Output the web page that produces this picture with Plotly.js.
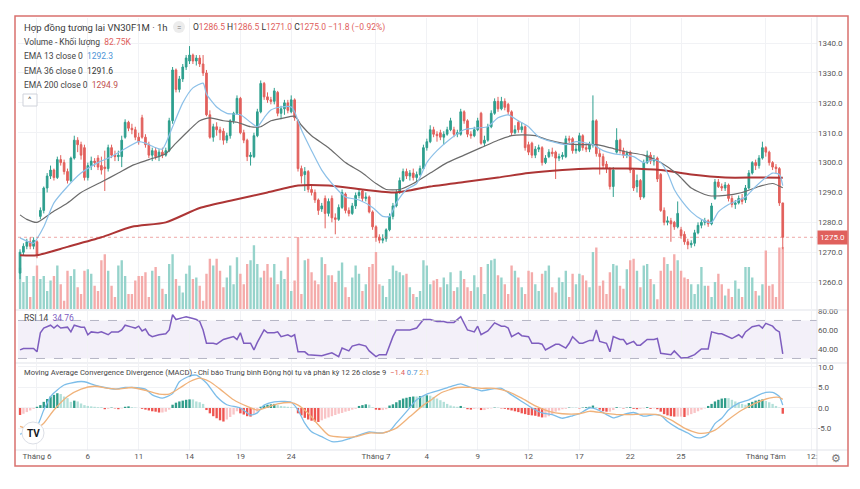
<!DOCTYPE html>
<html>
<head>
<meta charset="utf-8">
<script src="https://cdn.plot.ly/plotly-3.0.1.min.js"></script>
<style>
html, body { margin: 0; padding: 0; background: #fff; }
#graph { width: 860px; height: 489px; }
</style>
</head>
<body>
<div id="graph"></div>
<script>
// VN30F1M 1h - gia doc tu hinh (uoc luong)
var openP = [1263,1270,1272,1273.5,1272,1273.5,1282,1284,1291.5,1295.5,
1297.5,1295,1301,1300,1297,1294,1301.5,1307.5,1306,1305,
1295,1299,1300.5,1301.5,1299,1298.5,1298,1305,1302.5,1302,
1302,1308.5,1313.5,1311.5,1311,1308.5,1315,1308.5,1306,1302.5,
1304,1302,1303.5,1302.5,1304,1314,1331,1324.5,1328,1332,
1334,1336,1334,1335,1333,1330,1316,1308.5,1312,1311,
1310.5,1307.5,1309,1314,1316.5,1321.5,1310,1307.5,1302,1302,
1309,1317,1326.5,1322,1321,1320.5,1323.5,1316.5,1318,1320,
1317,1321,1314,1298,1296,1297,1291,1290,1287.5,1284.5,
1288,1283,1288,1281.5,1281,1285,1289.5,1284,1283,1285.5,
1289,1290.5,1288,1288.5,1283.5,1278.5,1275,1274,1274.5,1277.5,
1282,1285.5,1290,1294,1297,1295.5,1296.5,1295,1296,1298,
1305,1307,1311,1309.5,1310,1308.5,1309.5,1311,1311,1309.5,
1309.5,1317,1314,1309.5,1309,1311,1316.5,1306.5,1307.5,1312,
1316.5,1320.5,1318,1320.5,1319.5,1317,1310,1313.5,1311,1312,
1306,1306.5,1302.5,1304.5,1305,1300,1302,1303.5,1303.5,1301.5,
1302,1302,1308,1308,1304,1304,1309,1305,1304.5,1306,
1314,1303,1302,1299.5,1298,1292,1303.5,1307.5,1304,1302.5,
1303.5,1297.5,1292,1294,1288.5,1300,1302.5,1300.5,1301.5,1296,
1284,1280,1280.5,1280,1278.5,1277.5,1276,1273.5,1272.5,1273,
1276.5,1279,1280,1280.5,1279.5,1288,1293.5,1292,1291.5,1292.5,
1288,1286,1286.5,1288,1287.5,1291.5,1296.5,1300,1299,1301.5,
1305,1303.5,1300,1298.5,1298,1286.5];

var highP = [1271,1273,1274.5,1275,1275,1274,1285,1292,1296.5,1299,
1298,1302,1302.5,1301,1298,1302,1309,1308.5,1307,1306,
1300,1302,1301.5,1302.5,1302,1304,1306,1306,1304,1304,
1309,1314.5,1314,1313,1312,1310,1316,1309.5,1307,1305,
1305,1304.5,1305,1305,1315,1332,1331.5,1329,1333,1336,
1339,1336.5,1336,1336,1336,1331,1317.5,1313,1313.5,1312,
1311.5,1310,1314.5,1317,1322.5,1322,1311,1308,1303.5,1310,
1318,1327.5,1327,1323.5,1322,1325,1324,1319,1321,1321,
1322.5,1321.5,1314.5,1299,1298.5,1297.5,1292.5,1291,1288,1286.5,
1289,1288,1289,1283,1286,1291,1290,1285,1286.5,1290,
1291,1291,1290,1289,1284,1279,1276,1276,1278,1283,
1286.5,1291,1295,1298,1298,1297.5,1298,1297,1299,1306,
1308,1312.5,1312,1310.5,1311,1310.5,1312,1315,1312,1311,
1318,1317.5,1314.5,1310.5,1312,1315,1317,1309,1313,1317.5,
1321.5,1322,1322,1321.5,1320,1317.5,1312.5,1314,1313.5,1312.5,
1307,1307,1305.5,1306,1305.5,1302.5,1304.5,1305,1304,1303,
1303.5,1309,1309,1308.5,1306,1310,1309.5,1306.5,1307,1322.5,
1314.5,1304.5,1303,1300.5,1298.5,1298.5,1311.5,1308,1305,1304,
1304,1298,1296,1294.5,1301,1304,1303.5,1302.5,1302,1296.5,
1285,1282,1281.5,1280.5,1287,1278.5,1277,1274.5,1274,1277.5,
1280,1281,1281.5,1281,1286.5,1294.5,1294.5,1293,1293.5,1293,
1289,1287.5,1289,1289.5,1292.5,1297.5,1300.5,1301,1302.5,1307,
1305.5,1304,1300.5,1299.5,1298.5,1286.5];

var lowP = [1261,1269,1271,1271,1271,1268,1281,1283,1290,1294.5,
1294,1294.5,1299,1296,1293,1293.5,1301,1303.5,1301,1294,
1294,1297.5,1298.5,1297.5,1296,1290.5,1297,1301.5,1300.5,1300.5,
1298.5,1308,1310.5,1309.5,1307.5,1306,1308,1305,1301.5,1300.5,
1301,1300.5,1301.5,1302,1303.5,1313,1323.5,1323.5,1327,1331,
1333,1333,1332.5,1332,1329,1315.5,1308,1307,1309,1307.5,
1306,1306.5,1308,1313,1316,1309.5,1306.5,1300.5,1299,1301.5,
1308.5,1316.5,1321,1320,1319.5,1319.5,1315.5,1314.5,1316,1316.5,
1316.5,1314,1297,1293,1290.5,1290,1289,1286.5,1282.5,1283.5,
1278,1282,1280,1276,1280.5,1284.5,1283,1282,1282.5,1284.5,
1288,1287,1287,1283,1277.5,1273.5,1273,1273,1273.5,1277,
1281,1285,1289.5,1293.5,1294.5,1294,1294,1293.5,1295.5,1297.5,
1304,1306.5,1308.5,1307,1307.5,1306,1309,1310.5,1308.5,1308.5,
1309,1313,1308.5,1308,1308.5,1310.5,1306,1305.5,1307,1311.5,
1316,1317,1317.5,1317.5,1316,1309,1309.5,1310,1310,1304,
1302.5,1301.5,1301.5,1303.5,1299,1299.5,1301.5,1302,1294.5,1300.5,
1301,1301.5,1306,1303,1303,1303.5,1304,1303.5,1303.5,1305,
1302,1296,1298,1296.5,1291,1288.5,1303,1303,1301.5,1301.5,
1296.5,1290.5,1290,1287.5,1288,1299.5,1299.5,1299,1293.5,1283.5,
1279,1279,1273.5,1277.5,1278,1274.5,1272.5,1271,1271.5,1272,
1276,1278,1279,1278.5,1279,1287.5,1291.5,1290.5,1290.5,1287,
1285,1284.5,1286,1286,1286.5,1291,1296,1297.5,1298,1301,
1302,1299,1297.5,1296.5,1285.5,1271];

var closeP = [1270,1272,1273.5,1272,1274,1269,1284,1291.5,1295.5,1297.5,
1295,1301,1300,1297,1294,1301.5,1307.5,1306,1302.5,1295,
1299,1300.5,1300,1298.5,1297.5,1298,1305,1302.5,1302,1302.5,
1307.5,1313.5,1311.5,1311,1308.5,1307,1308.5,1306,1302.5,1304,
1302,1303.5,1302.5,1304,1314,1331,1324.5,1328,1332,1335,
1336,1334,1335,1333,1330,1316,1308.5,1312,1311,1310,
1307.5,1309,1314,1316.5,1321.5,1310,1307.5,1302,1302.5,1309,
1317,1326.5,1322,1321,1320.5,1324,1316.5,1318,1320,1317.5,
1321,1315,1298,1295.5,1297,1291,1290,1287.5,1284,1285.5,
1283,1287,1281.5,1281,1285,1290,1284,1283,1285.5,1289,
1290,1288,1288.5,1283.5,1278.5,1275,1274,1274.5,1277.5,1282,
1285.5,1290,1294,1297,1295.5,1296.5,1295,1296,1298,1305,
1307,1311,1309.5,1309,1308.5,1309.5,1311,1314,1309.5,1310,
1317,1314,1309.5,1309,1311,1314,1306.5,1307.5,1312,1316.5,
1320.5,1318,1320.5,1318.5,1317,1310,1311,1311,1312,1305,
1303.5,1302.5,1304.5,1305,1300,1301.5,1303.5,1303,1301.5,1302,
1302.5,1308,1307.5,1304,1304.5,1309,1305,1304.5,1306,1314,
1303,1302,1299,1298,1292,1297.5,1307.5,1304,1302.5,1303,
1297.5,1291.5,1294,1288.5,1300,1302.5,1300.5,1301,1294.5,1284,
1280,1280.5,1279.5,1278.5,1283,1275.5,1273.5,1272.5,1273,1276.5,
1279,1280,1280.5,1279.5,1285.5,1293.5,1292,1291.5,1292.5,1288,
1286,1286.5,1288,1287,1291.5,1296.5,1300,1299,1301.5,1305,
1303.5,1300,1298.5,1298,1286.5,1275];

// khoi luong (nghin hop dong)
var volK = [55,
36,44,16,44,58,40,44,24,38,44,58,33,11,51,44,53,29,20,51,53,
47,31,24,65,73,51,31,16,58,65,44,20,20,38,44,44,49,16,51,56,
44,27,20,60,73,40,31,22,47,58,40,42,31,11,47,67,58,67,
51,29,42,58,33,69,47,33,60,65,85,60,42,51,60,42,60,33,51,40,69,24,38,96,
20,65,67,49,38,33,69,60,45,45,36,51,62,29,16,42,58,47,24,33,
56,60,76,33,31,16,40,58,51,49,45,47,29,20,16,24,65,58,33,38,
40,29,42,33,49,24,29,51,40,29,24,45,29,56,20,60,65,67,45,42,
33,20,58,51,42,29,20,51,49,33,24,47,51,58,29,22,42,36,51,16,
47,33,47,45,
38,29,76,82,31,38,20,49,60,58,31,27,53,65,67,51,29,58,60,40,
33,13,51,69,60,51,73,65,51,42,40,33,20,33,56,31,31,16,36,47,
33,18,27,16,38,27,16,56,56,42,24,18,33,78,31,33,16,82,82.75];

// EMA (doc theo diem tren hinh)
var ema13Bar = [0,4,5,7,10,14,18,23,27,30,35,37,40,42,45,48,51,54,55,58,
61,65,68,70,72,74,77,80,81,83,86,89,92,96,100,104,107,109,111,114,
117,120,123,127,131,135,138,141,144,147,150,153,157,161,164,169,172,175,178,181,
184,187,189,191,193,195,198,201,204,206,209,211,214,217,220,222,224,225];
var ema13Val = [1274.8,1273,1274.5,1278.5,1286.5,1292,1296.5,1300,1302,1304,1307,1306.5,1305,1304.5,1312,1320,1325,1326.6,1323,1318.6,
1316.5,1316,1313.5,1312,1315,1317.6,1318.6,1318.6,1317,1311,1304,1297.5,1293,1288.5,1287.5,1285,1282,1282,1286.5,1291,
1293,1300,1304,1308,1311,1311.6,1312,1315,1316,1314,1312,1308.6,1307,1306,1307,1306,1304,1303,1302.5,1302,
1300,1301,1300,1296.5,1291,1287.5,1283.5,1281,1280,1283.5,1286,1287,1288.5,1292,1295,1296.5,1296,1292.3];

var ema36Bar = [0,2,5,9,14,18,24,29,33,38,43,46,50,53,56,60,64,68,71,74,
78,81,83,86,91,96,101,105,108,112,116,121,126,131,136,141,145,148,152,156,
160,165,170,174,179,184,189,194,198,203,208,213,218,222,225];
var ema36Val = [1282.5,1281,1280,1283,1286.5,1290,1293.5,1296.5,1299,1301,1303,1306.5,1311,1314,1315,1314,1313.5,1312,1312,1314,
1315,1315.5,1312.5,1309,1305,1300,1296.5,1293,1291,1291,1293,1296.5,1300,1302.5,1305,1307.5,1309,1309.3,1309,1307.5,
1306.5,1306,1306,1305,1303.5,1302.5,1300,1296,1291.5,1289,1289,1290,1292,1293,1291.6];

var ema200Bar = [0,5,14,24,33,43,53,63,73,82,91,101,111,121,131,141,150,160,169,179,189,198,208,218,225];
var ema200Val = [1269,1269,1271.8,1275,1278.5,1280,1284.8,1287.5,1290,1292.3,1292.3,1291,1290,1292,1293.5,1295,1296.5,1297.5,1298,1298,1297.5,1296,1295,1295,1294.9];

// RSI 14
var rsiBar = [0,1,4,5,6,7,9,10,11,12,14,15,16,18,19,20,21,23,24,26,
27,29,30,31,33,34,35,36,37,38,39,41,43,44,45,46,48,49,51,52,
53,54,55,57,58,60,62,63,64,65,66,68,69,70,72,73,75,76,77,79,
80,81,82,84,85,88,89,91,92,94,95,97,98,100,102,103,105,106,108,110,
111,113,115,117,118,119,121,123,125,126,128,130,132,134,135,136,138,140,142,143,
144,145,147,148,150,151,153,154,155,158,159,161,162,163,165,166,168,169,170,171,
173,174,175,177,178,179,181,182,183,185,187,188,189,191,192,193,195,197,199,201,
203,204,206,207,209,210,212,213,214,216,218,219,220,222,223,224,225];
var rsiVal = [39,40.5,40.5,37,57,62,65,62,65,62,63,58,65,63,63,55,58,57,58,55,
58,58,60,65,63,62,64,59,61,55,53,55,56,60,76,71,73,74,72,71,
69,60,46,46,45,50,52,53,50,57,46,46,39,47,60,57,57,58,53,55,
53,55,37,37,34,33,33,35,36,32,41,38,43,45,43,38,32,34,34,53,
60,60,60,62,67,71,71,69,69,68,68,74,60,58,64,55,59,67.5,64,64,
62,53,57,54,53,46,46,45,39,45,45,41,46,53,46,46,49,49,60,48,
46,37,53,50,50,45,48,44,44,50,50,51,35.5,34,34,38,30.5,31,34,40,
40,58,56,56,53,51,55,52,58,63.5,65,62,67,64,60,58,34.76];

// MACD 12 26 9
var macdBar = [0,3,5,7,9,11,13,17,19,22,25,28,31,33,37,39,42,45,47,50,
52,55,58,61,65,68,70,72,75,78,80,82,84,86,89,92,95,97,100,103,
106,109,111,114,117,120,124,127,130,133,136,139,142,145,148,151,154,157,160,163,
165,168,170,173,175,178,181,184,187,189,191,194,197,199,201,203,205,207,209,212,
215,218,220,222,224,225];
var macdVal = [-6.4,-5.4,-4.5,-0.5,2.8,4.4,5.6,6.4,6.4,5.6,5.0,4.6,5.0,5.0,4.6,3.2,2.4,3.5,6.4,7.8,
8.0,6.1,2.8,0.8,0,-1.7,-1.2,0.7,1.5,1.6,1.4,-0.5,-3.7,-5.8,-7.0,-8.2,-8.0,-7.5,-6.6,-5.8,
-6.1,-5.6,-3.7,-0.9,2.0,3.4,4.4,5.2,5.9,5.0,4.2,4.6,4.8,3.2,1.6,0,-1.2,-1.6,-2.5,-1.9,
-1.4,0,-0.3,-1.6,-2.4,-1.6,-1.1,-2.0,-1.6,-1.8,-3.3,-4.9,-6.1,-7.1,-7.2,-6.4,-3.8,-2.5,-0.5,1.2,
2.0,3.2,3.8,3.8,2.8,0.7];

var signalBar = [0,4,7,10,14,18,22,26,29,33,37,41,44,47,50,53,56,59,63,67,
70,73,76,80,82,85,88,91,95,99,103,107,111,115,119,121,124,129,133,136,
140,144,148,152,156,160,165,168,172,176,180,184,188,192,196,200,203,205,209,213,
217,221,224,225];
var signalVal = [-4.5,-5.4,-3.7,-0.5,2.8,4.6,5.3,4.8,4.6,5.0,4.3,3.4,3.4,4.8,6.4,7.3,6.4,4.6,2.0,0.4,
-0.5,0.2,1.0,1.3,0.7,-1.3,-4.1,-6.6,-7.1,-7.0,-6.1,-6.1,-4.9,-2.1,0.7,1.8,3.6,5.0,5.0,4.8,
4.8,4.0,2.4,0.5,-0.8,-1.4,-1.4,-0.8,-1.2,-1.6,-1.6,-1.5,-1.6,-2.9,-4.9,-6.1,-6.0,-5.4,-2.8,-0.5,
1.2,2.4,2.6,2.1];

var histV = [-1.7,-1.4,-1.0,-0.6,-0.2,0.3,0.7,1.5,2.2,2.8,
3.2,3.6,3.4,2.8,2.4,1.5,1.8,1.6,1.1,0.7,
0.5,0.4,0.3,0.2,0.2,-0.3,-0.2,0.1,-0.1,-0.3,
-0.1,0.3,0.4,0.2,0.1,0,-0.2,-0.4,-0.6,-0.8,
-0.9,-1.1,-1.1,-0.9,-0.4,0.8,1.3,1.6,1.8,2.0,
2.1,2.1,1.6,1.4,1.0,-0.5,-1.3,-2.0,-2.5,-3.0,
-3.3,-2.8,-2.2,-1.6,-0.8,-1.3,-1.6,-2.0,-2.1,-1.6,
-0.9,0.3,0.6,0.8,0.9,1.0,0.7,0.5,0.4,0.3,
0.2,0.1,-1.3,-1.8,-2.4,-2.8,-3.1,-3.3,-3.4,-3.0,
-2.6,-2.3,-2.0,-1.7,-1.4,-1.2,-0.9,-0.7,-0.4,-0.2,
0.5,0.7,0.9,0.8,0.2,-0.4,-0.5,-0.5,-0.3,0.6,
0.9,1.4,1.9,2.3,2.5,2.7,2.8,2.8,2.9,2.9,
3.1,3.0,2.7,2.3,1.9,1.5,1.0,0.6,0.4,0.3,
0.5,0.2,-0.3,-0.4,-0.2,-0.1,-0.5,-0.5,-0.2,-0.1,
0.1,0.1,-0.1,-0.2,-0.4,-0.6,-0.8,-1.0,-1.3,-1.5,
-1.7,-1.8,-1.9,-2.1,-2.3,-2.3,-2.0,-1.5,-0.9,-0.6,
-0.3,-0.2,0.1,0.1,0.1,-0.1,0.1,0.2,0.3,0.6,
0.2,-0.4,-0.8,-0.9,-0.9,-0.5,0.2,0.1,-0.1,0.1,
0.2,-0.2,-0.3,-0.2,-0.1,0.2,-0.2,-0.1,-0.3,-0.9,
-1.5,-1.8,-2.0,-2.1,-2.1,-2.1,-2.2,-1.8,-1.5,-1.2,
-0.8,-0.4,-0.1,0.5,1.0,1.6,2.0,2.3,2.4,2.4,
2.0,1.6,1.3,1.0,0.8,1.2,1.5,1.8,2.0,2.1,
1.7,1.4,1.0,0.5,0.1,-1.4];

// truc thoi gian
var dayTicks = [5,20,35,50,65,80,105,120,135,150,165,180,195,220,233.6];
var dayLabels = ['Tháng 6','6','11','14','19','24','Tháng 7','4','9','12','17','22','25','Tháng Tám','12:'];
var priceTicks = [1260,1270,1280,1290,1300,1310,1320,1330,1340];

var barIdx = closeP.map(function (v, i) { return i; });

var upCol = '#2e9f8e';
var downCol = '#e2605c';
var volCol = closeP.map(function (c, i) { return c >= openP[i] ? '#96d3cb' : '#f4abaa'; });
var histCol = histV.map(function (h, i) {
  var prev = i > 0 ? histV[i - 1] : 0;
  if (h >= 0) return h > prev ? '#2f9d8a' : '#b3e0d9';
  return h < prev ? '#ee5450' : '#f9c4c6';
});

// pixel -> paper
function px(x) { return (x - 18) / 799; }
function py(y) { return (450 - y) / 432; }

var traces = [
  { type: 'bar', x: barIdx, y: volK, xaxis: 'x', yaxis: 'y', marker: { color: volCol }, hoverinfo: 'skip' },
  { type: 'candlestick', x: barIdx, open: openP, high: highP, low: lowP, close: closeP, xaxis: 'x', yaxis: 'y4',
    whiskerwidth: 0,
    increasing: { line: { color: upCol, width: 1 }, fillcolor: upCol },
    decreasing: { line: { color: downCol, width: 1 }, fillcolor: downCol },
    hoverinfo: 'skip' },
  { type: 'scatter', mode: 'lines', x: ema200Bar, y: ema200Val, xaxis: 'x', yaxis: 'y4',
    line: { color: '#ad3535', width: 2, shape: 'spline', smoothing: 0.6 }, hoverinfo: 'skip' },
  { type: 'scatter', mode: 'lines', x: ema36Bar, y: ema36Val, xaxis: 'x', yaxis: 'y4',
    line: { color: '#6b6b6b', width: 1.2, shape: 'spline', smoothing: 0.6 }, hoverinfo: 'skip' },
  { type: 'scatter', mode: 'lines', x: ema13Bar, y: ema13Val, xaxis: 'x', yaxis: 'y4',
    line: { color: '#8cc0e8', width: 1.2, shape: 'spline', smoothing: 0.6 }, hoverinfo: 'skip' },
  { type: 'scatter', mode: 'lines', x: rsiBar, y: rsiVal, xaxis: 'x', yaxis: 'y2',
    line: { color: '#7e5dbf', width: 1.5 }, hoverinfo: 'skip' },
  { type: 'bar', x: barIdx, y: histV, xaxis: 'x', yaxis: 'y3', marker: { color: histCol }, hoverinfo: 'skip' },
  { type: 'scatter', mode: 'lines', x: macdBar, y: macdVal, xaxis: 'x', yaxis: 'y3',
    line: { color: '#7cbde9', width: 1.3, shape: 'spline', smoothing: 0.6 }, hoverinfo: 'skip' },
  { type: 'scatter', mode: 'lines', x: signalBar, y: signalVal, xaxis: 'x', yaxis: 'y3',
    line: { color: '#f0b27a', width: 1.3, shape: 'spline', smoothing: 0.6 }, hoverinfo: 'skip' }
];

var gridCol = '#f1f2f5';
var sepCol = '#e1e3e9';

function note(x, y, text, size, color, anchor) {
  return { xref: 'paper', yref: 'paper', x: px(x), y: py(y), text: text, showarrow: false,
    xanchor: anchor || 'left', yanchor: 'middle', font: { size: size, color: color } };
}

var red = '#e0605c';
var annotations = [
  note(22, 27, 'Hợp đồng tương lai VN30F1M · 1h', 9.5, '#3a3a3a'),
  note(179, 27, '=', 8, '#777', 'center'),
  note(191, 27, 'O<span style="color:' + red + '">1286.5</span> H<span style="color:' + red + '">1286.5</span> L<span style="color:' + red + '">1271.0</span> C<span style="color:' + red + '">1275.0</span> <span style="color:' + red + '">−11.8 (−0.92%)</span>', 8.5, '#333'),
  note(22, 42, 'Volume - Khối lượng&nbsp; <span style="color:' + red + '">82.75K</span>', 8.5, '#444'),
  note(22, 56, 'EMA 13 close 0&nbsp; <span style="color:#4d94d6">1292.3</span>', 8.5, '#444'),
  note(22, 71, 'EMA 36 close 0&nbsp; <span style="color:#333">1291.6</span>', 8.5, '#444'),
  note(22, 85, 'EMA 200 close 0&nbsp; <span style="color:#c0504d">1294.9</span>', 8.5, '#444'),
  note(30, 100, '^', 8, '#555', 'center'),
  note(22, 318, 'RSI 14&nbsp; <span style="color:#7e5dbf">34.76</span>', 8.5, '#444'),
  note(22, 372, 'Moving Average Convergence Divergence (MACD) - Chỉ báo Trung bình Động hội tụ và phân kỳ 12 26 close 9&nbsp; <span style="color:' + red + '">−1.4</span> <span style="color:#4d94d6">0.7</span> <span style="color:#f0a050">2.1</span>', 7.6, '#444'),
  note(33, 433, '<b>TV</b>', 10, '#131722', 'center'),
  note(836, 458, '⚙', 11, '#777', 'center'),
  { xref: 'paper', yref: 'y4', x: px(832), y: 1275, text: '1275.0', showarrow: false, xanchor: 'center', yanchor: 'middle',
    font: { size: 8, color: '#fff' }, bgcolor: '#e0605c', borderpad: 2 }
];

var shapes = [
  { type: 'rect', xref: 'paper', yref: 'y2', x0: 0, x1: 1, y0: 30, y1: 70, fillcolor: 'rgba(126,87,194,0.09)', line: { width: 0 }, layer: 'below' },
  { type: 'line', xref: 'paper', yref: 'y2', x0: 0, x1: 1, y0: 70, y1: 70, line: { color: '#b5b5c5', width: 1, dash: 'dash' } },
  { type: 'line', xref: 'paper', yref: 'y2', x0: 0, x1: 1, y0: 30, y1: 30, line: { color: '#b5b5c5', width: 1, dash: 'dash' } },
  { type: 'line', xref: 'paper', yref: 'y4', x0: 0, x1: 1, y0: 1275, y1: 1275, line: { color: 'rgba(224,96,92,0.55)', width: 1, dash: 'dot' } },
  { type: 'line', xref: 'paper', yref: 'paper', x0: px(15), x1: px(848), y0: py(310), y1: py(310), line: { color: sepCol, width: 1 } },
  { type: 'line', xref: 'paper', yref: 'paper', x0: px(15), x1: px(848), y0: py(363), y1: py(363), line: { color: sepCol, width: 1 } },
  { type: 'line', xref: 'paper', yref: 'paper', x0: px(15), x1: px(848), y0: py(450), y1: py(450), line: { color: sepCol, width: 1 } },
  { type: 'line', xref: 'paper', yref: 'paper', x0: 1, x1: 1, y0: py(466), y1: py(16), line: { color: sepCol, width: 1 } },
  { type: 'rect', xref: 'paper', yref: 'paper', x0: px(23), x1: px(37), y0: py(106), y1: py(94), line: { color: '#cfd2da', width: 1 }, fillcolor: '#fff' },
  { type: 'circle', xref: 'paper', yref: 'paper', x0: px(22), x1: px(44), y0: py(444), y1: py(422), line: { color: '#dcdfe6', width: 1 }, fillcolor: '#fff' },
  { type: 'circle', xref: 'paper', yref: 'paper', x0: px(173), x1: px(185), y0: py(33), y1: py(21), line: { width: 0 }, fillcolor: '#ececec' },
  { type: 'rect', xref: 'paper', yref: 'paper', x0: px(15), x1: px(848), y0: py(466), y1: py(16), line: { color: '#d9706d', width: 1.5 }, fillcolor: 'rgba(0,0,0,0)' }
];

var layout = {
  width: 860,
  height: 489,
  margin: { l: 18, r: 43, t: 18, b: 39 },
  paper_bgcolor: '#fff',
  plot_bgcolor: '#fff',
  font: { family: 'Roboto, "Liberation Sans", sans-serif', size: 8, color: '#555' },
  showlegend: false,
  hovermode: false,
  bargap: 0.3,
  xaxis: { domain: [0, 1], anchor: 'y3', range: [-0.6, 235.1], tickvals: dayTicks, ticktext: dayLabels,
    showgrid: true, gridcolor: gridCol, zeroline: false, ticks: '', tickfont: { size: 8, color: '#555' },
    rangeslider: { visible: false }, fixedrange: true },
  yaxis: { domain: [0.3264, 1], anchor: 'x', range: [0, 388], visible: false, fixedrange: true },
  yaxis4: { overlaying: 'y', anchor: 'x', side: 'right', range: [1251, 1348.4], tickvals: priceTicks,
    ticktext: priceTicks.map(function (v) { return v.toFixed(1); }), showgrid: true, gridcolor: gridCol,
    zeroline: false, ticks: '', tickfont: { size: 8, color: '#555' }, fixedrange: true },
  yaxis2: { domain: [0.2037, 0.3218], anchor: 'x', side: 'right', range: [26.3, 80], tickvals: [40, 60, 80],
    ticktext: ['40.00', '60.00', '80.00'], showgrid: false, zeroline: false, ticks: '',
    tickfont: { size: 8, color: '#555' }, fixedrange: true },
  yaxis3: { domain: [0, 0.1991], anchor: 'x', side: 'right', range: [-10.24, 10.73], tickvals: [-5, 0, 5, 10],
    ticktext: ['-5.0', '0.0', '5.0', '10.0'], showgrid: true, gridcolor: gridCol, zeroline: false, ticks: '',
    tickfont: { size: 8, color: '#555' }, fixedrange: true },
  shapes: shapes,
  annotations: annotations
};

Plotly.newPlot('graph', traces, layout, { staticPlot: true, displayModeBar: false });
</script>
</body>
</html>
